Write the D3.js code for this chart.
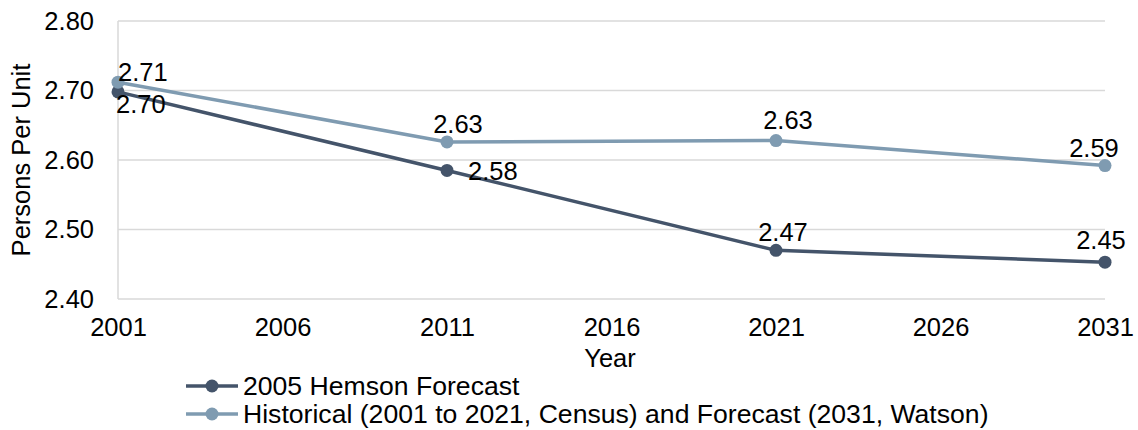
<!DOCTYPE html>
<html>
<head>
<meta charset="utf-8">
<script src="https://cdn.jsdelivr.net/npm/d3@7"></script>
<style>
  body { margin: 0; background: #fff; }
  svg { font-family: "Liberation Sans", Arial, sans-serif; }
</style>
</head>
<body>
<div id="chart"></div>
<script>
// data
const years = [2001, 2011, 2021, 2031];
const hemson = [2.698, 2.585, 2.470, 2.453];
const historical = [2.712, 2.626, 2.628, 2.592];
const hemsonLabels = ['2.70', '2.58', '2.47', '2.45'];
const historicalLabels = ['2.71', '2.63', '2.63', '2.59'];
const xTicks = [2001, 2006, 2011, 2016, 2021, 2026, 2031];
const yTicks = [2.40, 2.50, 2.60, 2.70, 2.80];
const seriesNames = ['2005 Hemson Forecast', 'Historical (2001 to 2021, Census) and Forecast (2031, Watson)'];
const colors = ['#44546a', '#7f9bb1'];

const width = 1138, height = 430;
const margin = { left: 118, right: 33, top: 21, bottom: 131 };
const fs = 25.5;

const svg = d3.select('#chart').append('svg')
  .attr('width', width)
  .attr('height', height);

const x = d3.scaleLinear()
  .domain([2001, 2031])
  .range([margin.left, width - margin.right]);

const y = d3.scaleLinear()
  .domain([2.40, 2.80])
  .range([height - margin.bottom, margin.top]);

// gridlines
svg.append('g')
  .selectAll('line')
  .data(yTicks)
  .enter().append('line')
  .attr('x1', margin.left)
  .attr('x2', width - margin.right)
  .attr('y1', d => y(d))
  .attr('y2', d => y(d))
  .attr('stroke', '#d9d9d9')
  .attr('stroke-width', 1.5);

// left axis line
svg.append('line')
  .attr('x1', margin.left).attr('x2', margin.left)
  .attr('y1', y(2.80)).attr('y2', y(2.40))
  .attr('stroke', '#d9d9d9')
  .attr('stroke-width', 1.5);

// y axis
const yAxis = d3.axisLeft(y).tickValues(yTicks).tickFormat(d3.format('.2f')).tickSize(0).tickPadding(24);
const yg = svg.append('g')
  .attr('transform', `translate(${margin.left},0)`)
  .call(yAxis);
yg.select('.domain').remove();
yg.selectAll('text').attr('font-size', fs).attr('fill', '#000').attr('font-family', '"Liberation Sans", Arial, sans-serif');

// x axis
const xAxis = d3.axisBottom(x).tickValues(xTicks).tickFormat(d3.format('d')).tickSize(0).tickPadding(19);
const xg = svg.append('g')
  .attr('transform', `translate(0,${y(2.40)})`)
  .call(xAxis);
xg.select('.domain').remove();
xg.selectAll('text').attr('font-size', fs).attr('fill', '#000').attr('font-family', '"Liberation Sans", Arial, sans-serif');

// axis titles
svg.append('text')
  .attr('x', 610)
  .attr('y', 367)
  .attr('text-anchor', 'middle')
  .attr('font-size', fs)
  .text('Year');

svg.append('text')
  .attr('transform', `translate(30,${(y(2.80) + y(2.40)) / 2}) rotate(-90)`)
  .attr('text-anchor', 'middle')
  .attr('font-size', fs)
  .text('Persons Per Unit');

// lines
const line = d3.line()
  .x((d, i) => x(years[i]))
  .y(d => y(d));

const series = [hemson, historical];
series.forEach((vals, s) => {
  svg.append('path')
    .datum(vals)
    .attr('d', line)
    .attr('fill', 'none')
    .attr('stroke', colors[s])
    .attr('stroke-width', 3.5);
  svg.append('g')
    .selectAll('circle')
    .data(vals)
    .enter().append('circle')
    .attr('cx', (d, i) => x(years[i]))
    .attr('cy', d => y(d))
    .attr('r', 6.5)
    .attr('fill', colors[s]);
});

// data labels (offsets from each point)
const hemsonPos = [
  { dx: -2, dy: 21, anchor: 'start' },
  { dx: 21, dy: 10, anchor: 'start' },
  { dx: 7, dy: -9, anchor: 'middle' },
  { dx: -4, dy: -13, anchor: 'middle' }
];
const historicalPos = [
  { dx: 0, dy: -1, anchor: 'start' },
  { dx: 11, dy: -9, anchor: 'middle' },
  { dx: 12, dy: -12, anchor: 'middle' },
  { dx: -11, dy: -9, anchor: 'middle' }
];

function addLabels(vals, labels, pos) {
  svg.append('g')
    .selectAll('text')
    .data(vals)
    .enter().append('text')
    .attr('x', (d, i) => x(years[i]) + pos[i].dx)
    .attr('y', (d, i) => y(d) + pos[i].dy)
    .attr('text-anchor', (d, i) => pos[i].anchor)
    .attr('font-size', fs)
    .attr('fill', '#000')
    .text((d, i) => labels[i]);
}
addLabels(hemson, hemsonLabels, hemsonPos);
addLabels(historical, historicalLabels, historicalPos);

// legend
const legend = svg.append('g');
seriesNames.forEach((name, i) => {
  const ly = 386 + i * 28;
  legend.append('line')
    .attr('x1', 186).attr('x2', 238)
    .attr('y1', ly).attr('y2', ly)
    .attr('stroke', colors[i])
    .attr('stroke-width', 3.5);
  legend.append('circle')
    .attr('cx', 212).attr('cy', ly)
    .attr('r', 6.5)
    .attr('fill', colors[i]);
  legend.append('text')
    .attr('x', 243)
    .attr('y', ly + 9)
    .attr('font-size', 26.6)
    .text(name);
});
</script>
</body>
</html>
